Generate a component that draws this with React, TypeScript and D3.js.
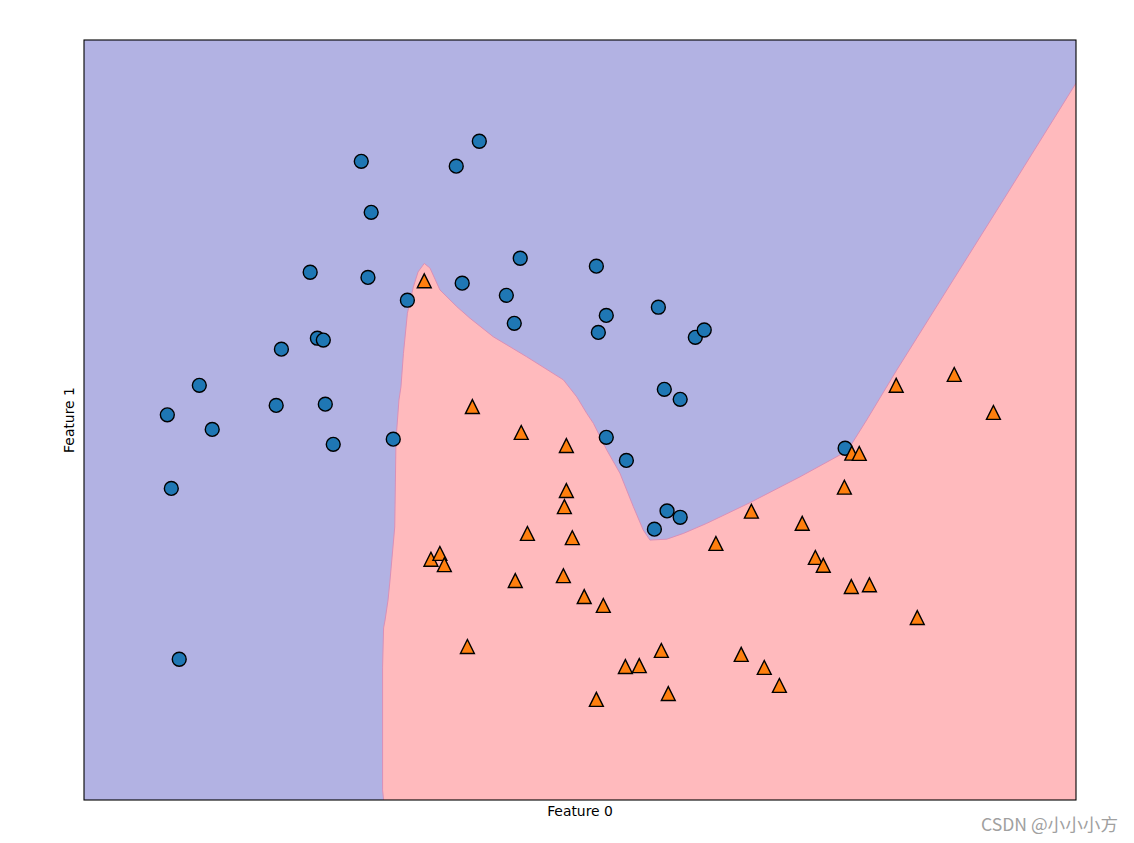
import React from "react";
import * as d3 from "d3";

// Class 0 points (circles) [feature0, feature1]
const class0: [number, number][] = [
  [-1.164, 0.267], [-1.148, 0.025], [-1.116, -0.537], [-1.035, 0.364], [-0.983, 0.219],
  [-0.725, 0.298], [-0.704, 0.483], [-0.588, 0.736], [-0.559, 0.519], [-0.535, 0.513],
  [-0.527, 0.302], [-0.495, 0.170], [-0.382, 1.101], [-0.355, 0.719], [-0.342, 0.933],
  [-0.253, 0.187], [-0.196, 0.644], [0.001, 1.085], [0.025, 0.700], [0.094, 1.167],
  [0.203, 0.660], [0.235, 0.568], [0.259, 0.782], [0.566, 0.756], [0.574, 0.538],
  [0.606, 0.594], [0.606, 0.193], [0.687, 0.117], [0.800, -0.109], [0.816, 0.621],
  [0.840, 0.351], [0.851, -0.049], [0.904, 0.318], [0.904, -0.070], [0.965, 0.522],
  [1.001, 0.546], [1.569, 0.157],
];

// Class 1 points (triangles)
const class1: [number, number][] = [
  [-0.128, 0.708], [0.066, 0.294], [0.263, 0.209], [0.445, 0.166], [0.445, 0.018],
  [0.437, -0.035], [0.288, -0.123], [0.469, -0.137], [-0.101, -0.208], [-0.065, -0.189],
  [-0.047, -0.226], [0.239, -0.278], [0.433, -0.262], [0.517, -0.331], [0.594, -0.360],
  [0.046, -0.495], [0.683, -0.561], [0.739, -0.558], [0.828, -0.508], [0.566, -0.669],
  [0.856, -0.650], [1.048, -0.156], [1.150, -0.521], [1.191, -0.050], [1.243, -0.564],
  [1.304, -0.623], [1.396, -0.090], [1.449, -0.202], [1.481, -0.228], [1.566, 0.029],
  [1.594, -0.298], [1.667, -0.292], [1.596, 0.141], [1.626, 0.140], [1.775, 0.364],
  [2.009, 0.400], [2.167, 0.275], [1.860, -0.400],
];

// Decision boundary (MLP) from bottom edge, up over the peak, down to the valley, to the right edge
const boundary: [number, number][] = [
  [-0.292, -1.0], [-0.296, -0.967], [-0.296, -0.563], [-0.292, -0.434], [-0.286, -0.408],
  [-0.274, -0.342], [-0.266, -0.276], [-0.247, -0.102], [-0.242, 0.184], [-0.230, 0.316],
  [-0.222, 0.359], [-0.212, 0.469], [-0.196, 0.601], [-0.172, 0.688], [-0.153, 0.737],
  [-0.128, 0.765], [-0.105, 0.750], [-0.065, 0.678], [0.003, 0.623], [0.056, 0.585],
  [0.150, 0.524], [0.285, 0.458], [0.433, 0.382], [0.487, 0.326], [0.527, 0.272],
  [0.554, 0.239], [0.608, 0.151], [0.661, 0.075], [0.715, -0.035], [0.755, -0.112],
  [0.782, -0.145], [0.850, -0.142], [0.917, -0.123], [1.011, -0.090], [1.185, -0.022],
  [1.387, 0.063], [1.548, 0.135], [1.593, 0.168], [1.656, 0.250], [1.777, 0.414],
  [2.005, 0.711], [2.207, 0.974], [2.5, 1.358],
];

const xDomain: [number, number] = [-1.5, 2.5];
const yDomain: [number, number] = [-1.0, 1.5];
const xLabel = "Feature 0";
const yLabel = "Feature 1";
const watermark = "CSDN @小小小方";

export default function App() {
  const W = 1134, H = 843;
  const left = 84, right = 1076, top = 40, bottom = 800;
  const x = d3.scaleLinear().domain(xDomain).range([left, right]);
  const y = d3.scaleLinear().domain(yDomain).range([bottom, top]);

  const poly: [number, number][] = [
    ...boundary,
    [xDomain[1], yDomain[0]],
  ];
  const area = d3.line<[number, number]>().x(d => x(d[0])).y(d => y(d[1]));
  const polyPath = area(poly) + "Z";
  const linePath = area(boundary) || "";

  const r = 6.95;
  const triPath = (cx: number, cy: number) =>
    `M${cx},${cy - r}L${cx - r},${cy + r}L${cx + r},${cy + r}Z`;

  return (
    <svg width={W} height={H} style={{ position: "absolute", left: 0, top: 0, background: "#fff" }}
      fontFamily="DejaVu Sans, sans-serif">
      <defs>
        <clipPath id="plotclip">
          <rect x={left} y={top} width={right - left} height={bottom - top} />
        </clipPath>
      </defs>
      <rect x={left} y={top} width={right - left} height={bottom - top} fill="#b2b2e3" />
      <g clipPath="url(#plotclip)">
        <path d={polyPath} fill="#ffbabd" />
        <path d={linePath} fill="none" stroke="#d890b8" strokeWidth={1} />
      </g>
      <g>
        {class0.map((d, i) => (
          <circle key={"c" + i} cx={x(d[0])} cy={y(d[1])} r={r} fill="#1f77b4" stroke="#000" strokeWidth={1.4} />
        ))}
        {class1.map((d, i) => (
          <path key={"t" + i} d={triPath(x(d[0]), y(d[1]))} fill="#ff7f0e" stroke="#000" strokeWidth={1.4} strokeLinejoin="miter" />
        ))}
      </g>
      <rect x={left} y={top} width={right - left} height={bottom - top} fill="none" stroke="#000" strokeWidth={1.1} />
      <text x={(left + right) / 2} y={816} textAnchor="middle" fontSize={13.9} fill="#000">{xLabel}</text>
      <text transform={`translate(74,${(top + bottom) / 2}) rotate(-90)`} textAnchor="middle" fontSize={13.9} fill="#000">{yLabel}</text>
      <text x={1118} y={831} textAnchor="end" fontSize={17.6} fill="#a0a0a0"
        fontFamily="'Noto Sans CJK SC', 'Noto Sans', sans-serif">{watermark}</text>
    </svg>
  );
}
